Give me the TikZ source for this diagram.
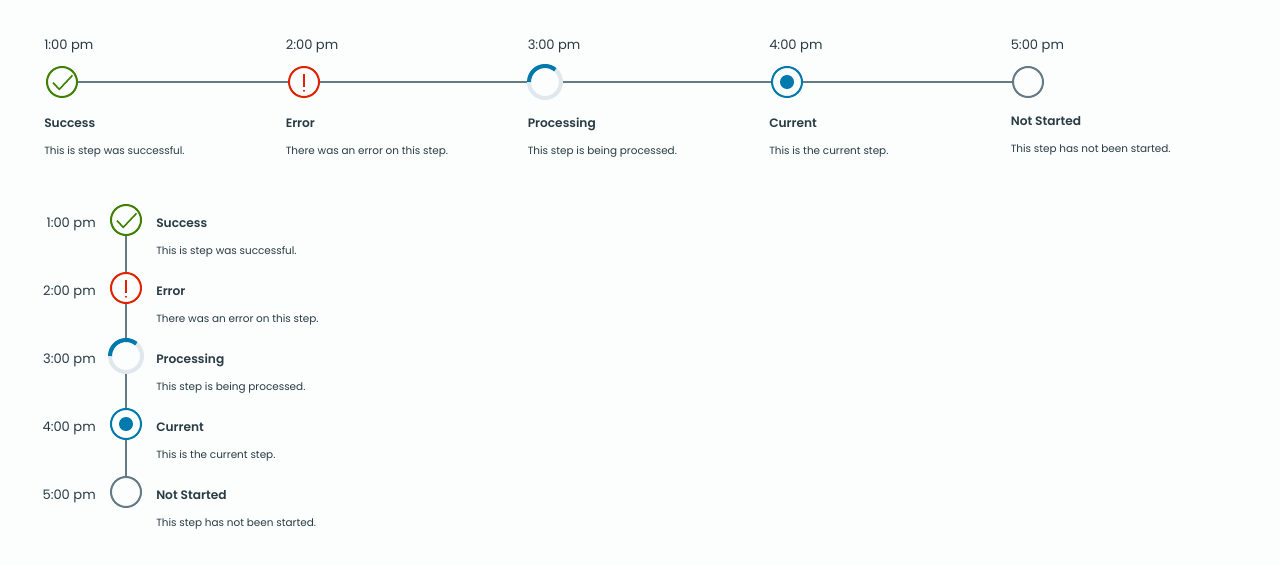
\documentclass[tikz,border=0pt]{standalone}
\usepackage{fontspec}
\setmainfont{Poppins}[BoldFont={* SemiBold}]
\usepackage{xcolor}
\usetikzlibrary{positioning}
\definecolor{pagebg}{HTML}{FBFEFD}
\definecolor{inkdark}{HTML}{2A3B45}
\definecolor{linegray}{HTML}{667A85}
\definecolor{okgreen}{HTML}{408000}
\definecolor{errred}{HTML}{E12200}
\definecolor{procblue}{HTML}{0079AD}
\definecolor{ringgray}{HTML}{E1E8ED}
\tikzset{
	stepicon/.style={circle,draw=#1,line width=1.5pt,inner sep=0pt,minimum size=22.5pt,fill=pagebg},
	timetext/.style={font=\fontsize{9.8pt}{12pt}\selectfont,text=inkdark,inner sep=0pt},
	titletext/.style={font=\fontsize{9.15pt}{12pt}\selectfont\bfseries,text=inkdark,inner sep=0pt,anchor=base west},
	desctext/.style={font=\fontsize{7.83pt}{10pt}\selectfont,text=inkdark,inner sep=0pt,anchor=base west},
	joinline/.style={draw=linegray,line width=1.5pt},
	okicon/.style={stepicon=okgreen,path picture={\draw[okgreen,line width=1.2pt,shift={(path picture bounding box.center)}] (-9,0.7) -- (-2.7,7.3) -- (10.5,-6.7);}},
	erricon/.style={stepicon=errred,path picture={
		\draw[errred,line width=1.2pt,shift={(path picture bounding box.center)}] (0,-8.3) -- (0,5);
		\fill[errred,shift={(path picture bounding box.center)}] (0,8.7) circle (1.1);}},
	procicon/.style={stepicon=ringgray,line width=3pt,minimum size=24pt},
	curicon/.style={stepicon=procblue,path picture={\fill[procblue] (path picture bounding box.center) circle (7);}},
	noticon/.style={stepicon=linegray},
	procarc/.style={draw=procblue,line width=3pt}
}
\begin{document}
\begin{tikzpicture}[x=0.75pt,y=-0.75pt]
	\useasboundingbox[fill=pagebg] (0,0) rectangle (1280,566);
	% top row
	\node[okicon] (h1) at (62,82) {};
	\node[erricon] (h2) at (304,82) {};
	\node[procicon] (h3) at (545,82) {};
	\node[curicon] (h4) at (787,82) {};
	\node[noticon] (h5) at (1028,82) {};
	\draw[joinline] (h1) -- (h2);
	\draw[joinline] (h2) -- (h3);
	\draw[joinline] (h3) -- (h4);
	\draw[joinline] (h4) -- (h5);
	\draw[procarc] (h3.center) ++(180:16) arc[start angle=180,end angle=310,radius=16];
	\foreach \n/\xpos/\ttime/\ttitle/\tdesc/\ytitle in {
		1/44/1:00 pm/Success/This is step was successful./128,
		2/285.5/2:00 pm/Error/There was an error on this step./128,
		3/527.5/3:00 pm/Processing/This step is being processed./128,
		4/769/4:00 pm/Current/This is the current step./128,
		5/1010.5/5:00 pm/Not Started/This step has not been started./126}{
		\node[timetext,anchor=base west] (htime\n) at (\xpos,50) {\ttime};
		\node[titletext] (htitle\n) at (\xpos,\ytitle) {\ttitle};
		\node[desctext] (hdesc\n) at (\xpos,\ytitle+27) {\tdesc};
	}
	% left column
	\node[okicon] (v1) at (126,220) {};
	\node[erricon] (v2) at (126,288) {};
	\node[procicon] (v3) at (126,356) {};
	\node[curicon] (v4) at (126,424) {};
	\node[noticon] (v5) at (126,492) {};
	\draw[joinline] (v1) -- (v2);
	\draw[joinline] (v2) -- (v3);
	\draw[joinline] (v3) -- (v4);
	\draw[joinline] (v4) -- (v5);
	\draw[procarc] (v3.center) ++(180:16) arc[start angle=180,end angle=310,radius=16];
	\foreach \n/\ypos/\ttime/\ttitle/\tdesc in {
		1/227.6/1:00 pm/Success/This is step was successful.,
		2/295.6/2:00 pm/Error/There was an error on this step.,
		3/363.6/3:00 pm/Processing/This step is being processed.,
		4/431.6/4:00 pm/Current/This is the current step.,
		5/499.6/5:00 pm/Not Started/This step has not been started.}{
		\node[timetext,anchor=base east] (vtime\n) at (96,\ypos) {\ttime};
		\node[titletext] (vtitle\n) at (156,\ypos) {\ttitle};
		\node[desctext] (vdesc\n) at (156,\ypos+27) {\tdesc};
	}
\end{tikzpicture}
\end{document}
